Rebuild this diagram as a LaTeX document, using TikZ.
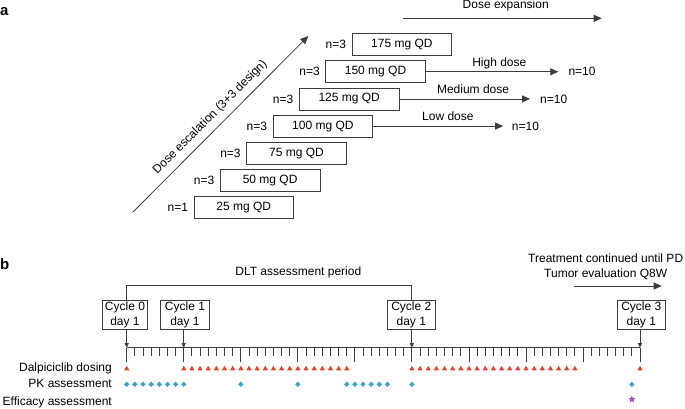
\documentclass[tikz,border=0pt]{standalone}
\usepackage{fontspec}
\setmainfont{Liberation Sans}
\usetikzlibrary{arrows.meta,shapes.geometric}
\definecolor{dosered}{RGB}{232,64,42}
\definecolor{pkblue}{RGB}{59,163,201}
\definecolor{effpurple}{RGB}{160,86,200}
\definecolor{linegray}{RGB}{60,60,60}
\begin{document}
\begin{tikzpicture}[x=1pt,y=-1pt,
  every node/.style={font=\fontsize{12}{14.4}\selectfont, inner sep=0pt},
  dosebox/.style={draw=linegray, line width=0.8pt, minimum width=99.5pt, minimum height=22pt},
  cyclebox/.style={draw=linegray, line width=0.8pt, align=center, minimum width=48.5pt, minimum height=29.3pt},
  bigarrow/.style={draw=linegray, line width=0.8pt, -{Triangle[length=8pt,width=7pt]}},
  smallarrow/.style={draw=linegray, line width=0.8pt, -{Triangle[length=4.5pt,width=4pt]}},
  axisline/.style={draw=linegray, line width=0.8pt},
  dosemark/.style={regular polygon, regular polygon sides=3, fill=dosered, minimum size=6pt},
  pkmark/.style={diamond, fill=pkblue, minimum size=5.5pt},
  effmark/.style={star, star points=5, star point ratio=2.2, fill=effpurple, minimum size=7.5pt},
  panel/.style={font=\fontsize{15}{18}\selectfont\bfseries, anchor=base west},
]
\useasboundingbox (0,0) rectangle (685,408);

% ---------- panel a ----------
\node[panel] (pa) at (0,15) {a};

\foreach \i/\dose/\n in {0/25/1,1/50/3,2/75/3,3/100/3,4/125/3,5/150/3,6/175/3} {
  \node[dosebox] (b\dose) at ({243.8+26.35*\i},{207.5-27.15*\i}) {\dose\ mg QD};
  \node[anchor=east] (n\dose) at ([xshift=-5.5pt]b\dose.west) {n=\n};
}

\coordinate (escA) at (132.7,212.3);
\coordinate (escB) at (308.3,36);
\draw[bigarrow] (escA) -- node[pos=0.49, sloped, above=6pt] (esclabel) {Dose escalation (3+3 design)} (escB);

\coordinate (expA) at (403.3,18.3);
\coordinate (expB) at (601.7,18.3);
\draw[bigarrow] (expA) -- (expB);
\node[anchor=base] (explabel) at (505.7,8.5) {Dose expansion};

\node[anchor=west] (n10h) at (568.3,0 |- b150.east) {n=10};
\node[anchor=west] (n10m) at (540,0 |- b125.east) {n=10};
\node[anchor=west] (n10l) at (511.7,0 |- b100.east) {n=10};
\draw[bigarrow, shorten >=10pt] (b150.east) -- node[pos=0.516, anchor=base, yshift=5pt] (lhigh) {High dose} (n10h.west);
\draw[bigarrow, shorten >=10pt] (b125.east) -- node[pos=0.524, anchor=base, yshift=5pt] (lmed) {Medium dose} (n10m.west);
\draw[bigarrow, shorten >=8.5pt] (b100.east) -- node[pos=0.54, anchor=base, yshift=6pt] (llow) {Low dose} (n10l.west);

% ---------- panel b ----------
\node[panel] (pb) at (0,269) {b};

\coordinate (d0) at (126.7,347.7);
\coordinate (d7) at (183.74,347.7);
\coordinate (d35) at (411.88,347.7);
\coordinate (d63) at (640.0,347.7);

\draw[axisline] (d0) -- (d63);
\foreach \k in {0,...,63} {
  \pgfmathsetmacro\xx{126.7+8.148*\k}
  \pgfmathtruncatemacro\mm{mod(\k,7)}
  \ifnum\mm=0
    \draw[axisline] (\xx,347.7) -- (\xx,362.3);
  \else
    \draw[axisline] (\xx,347.7) -- (\xx,355.7);
  \fi
}

\node[cyclebox, minimum width=44.6pt] (c0) at (125,314.7) {Cycle 0\\day 1};
\node[cyclebox] (c1) at (185,314.7) {Cycle 1\\day 1};
\node[cyclebox] (c2) at (411.3,314.7) {Cycle 2\\day 1};
\node[cyclebox] (c3) at (641.3,314.7) {Cycle 3\\day 1};

\draw[smallarrow] (c0.south -| d0) -- (d0);
\draw[smallarrow] (c1.south -| d7) -- (d7);
\draw[smallarrow] (c2.south -| d35) -- (d35);
\draw[smallarrow] (c3.south -| d63) -- (d63);

\draw[axisline] (c0.north -| d0) -- ++(0,-14.3) -| (c2.north -| d35);
\node[anchor=base] (dlt) at (298.3,275.5) {DLT assessment period};

\node[align=center, font=\fontsize{12}{15}\selectfont] (treat) at (605.7,266.9) {Treatment continued until PD\\Tumor evaluation Q8W};
\coordinate (trA) at (574.3,286);
\coordinate (trB) at (661.7,286);
\draw[bigarrow] (trA) -- (trB);

\node[anchor=base east] (ldose) at (112,371.7) {Dalpiciclib dosing};
\node[anchor=base east] (lpk) at (112,387.7) {PK assessment};
\node[anchor=base east] (leff) at (112,405) {Efficacy assessment};

\foreach \k in {0,7,8,...,27,35,36,...,55,63}
  \node[dosemark] (dm\k) at ({126.7+8.148*\k},368.8) {};
\foreach \k in {0,1,...,7,14,21,27,28,...,32,35,62}
  \node[pkmark] (pk\k) at ({126.7+8.148*\k},384.3) {};
\node[effmark] (ef62) at ({126.7+8.148*62},399.3) {};
\end{tikzpicture}
\end{document}
